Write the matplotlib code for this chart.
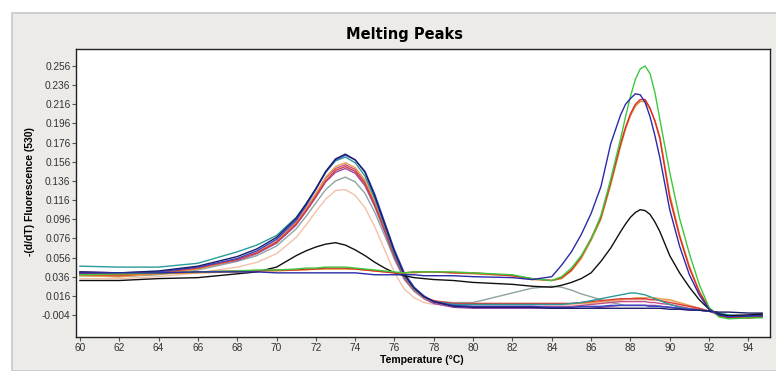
import matplotlib
matplotlib.use("Agg")
import matplotlib.pyplot as plt
from matplotlib.patches import Rectangle

# temperature grid (deg C) shared by all curves
temp = [60, 62, 64, 66, 68, 69, 70, 71, 71.5, 72, 72.5, 73, 73.5, 74, 74.5, 75, 75.5,
        76, 76.5, 77, 77.5, 78, 79, 80, 82, 83, 84, 84.5, 85, 85.5, 86, 86.5, 87, 87.5,
        87.75, 88, 88.25, 88.5, 88.75, 89, 89.25, 89.5, 90, 90.5, 91, 91.5, 92, 92.5, 93,
        94, 94.7]

# -(d/dT) fluorescence
navy = [0.041, 0.040, 0.042, 0.047, 0.057, 0.065, 0.077, 0.097, 0.112, 0.128, 0.146, 0.159, 0.164,
        0.158, 0.145, 0.120, 0.091, 0.062, 0.038, 0.024, 0.015, 0.010, 0.005, 0.004, 0.004, 0.004,
        0.003, 0.003, 0.003, 0.003, 0.003, 0.003, 0.003, 0.003,
        0.003, 0.003, 0.003, 0.003, 0.003, 0.003, 0.003, 0.003,
        0.002, 0.002, 0.001, 0.001, 0.000, -0.001, -0.001, -0.002, -0.002]
blue = [0.040, 0.039, 0.041, 0.046, 0.055, 0.063, 0.075, 0.095, 0.110, 0.127, 0.145, 0.158, 0.163,
        0.158, 0.146, 0.122, 0.093, 0.064, 0.040, 0.025, 0.016, 0.010, 0.006, 0.005, 0.005, 0.005,
        0.004, 0.004, 0.004, 0.005, 0.005, 0.005, 0.006, 0.006,
        0.006, 0.006, 0.006, 0.006, 0.006, 0.005, 0.005, 0.005,
        0.004, 0.003, 0.002, 0.001, 0.000, -0.003, -0.005, -0.005, -0.004]
teal = [0.047, 0.046, 0.046, 0.050, 0.062, 0.069, 0.079, 0.098, 0.112, 0.128, 0.145, 0.157, 0.161,
        0.155, 0.141, 0.117, 0.089, 0.060, 0.037, 0.023, 0.015, 0.010, 0.007, 0.007, 0.007, 0.007,
        0.007, 0.007, 0.008, 0.009, 0.011, 0.013, 0.015, 0.017,
        0.018, 0.019, 0.019, 0.018, 0.017, 0.015, 0.013, 0.011,
        0.007, 0.004, 0.002, 0.001, 0.000, -0.002, -0.004, -0.005, -0.005]
red_a = [0.038, 0.037, 0.040, 0.045, 0.054, 0.061, 0.072, 0.091, 0.105, 0.120, 0.136, 0.147, 0.151,
         0.146, 0.133, 0.111, 0.085, 0.058, 0.036, 0.023, 0.015, 0.011, 0.008, 0.008, 0.008, 0.008,
         0.008, 0.008, 0.008, 0.009, 0.010, 0.011, 0.012, 0.013,
         0.013, 0.013, 0.013, 0.013, 0.013, 0.012, 0.012, 0.011,
         0.009, 0.007, 0.005, 0.003, 0.000, -0.003, -0.005, -0.006, -0.006]
orange_a = [0.037, 0.036, 0.039, 0.044, 0.054, 0.061, 0.073, 0.092, 0.107, 0.123, 0.140, 0.151, 0.155,
            0.150, 0.137, 0.114, 0.087, 0.059, 0.036, 0.022, 0.014, 0.010, 0.008, 0.008, 0.008, 0.008,
            0.008, 0.008, 0.008, 0.008, 0.009, 0.010, 0.011, 0.012,
            0.013, 0.013, 0.014, 0.014, 0.014, 0.014, 0.014, 0.013,
            0.012, 0.009, 0.006, 0.003, 0.000, -0.004, -0.006, -0.007, -0.006]
purple = [0.041, 0.040, 0.041, 0.045, 0.053, 0.060, 0.071, 0.090, 0.104, 0.119, 0.135, 0.145, 0.149,
          0.144, 0.131, 0.109, 0.083, 0.056, 0.034, 0.021, 0.013, 0.008, 0.004, 0.003, 0.003, 0.003,
          0.003, 0.003, 0.003, 0.003, 0.003, 0.004, 0.005, 0.006,
          0.006, 0.006, 0.006, 0.006, 0.006, 0.006, 0.006, 0.005,
          0.004, 0.003, 0.002, 0.001, 0.000, -0.003, -0.005, -0.005, -0.005]
magenta = [0.039, 0.038, 0.040, 0.045, 0.054, 0.061, 0.073, 0.093, 0.107, 0.122, 0.139, 0.149, 0.153,
           0.148, 0.135, 0.113, 0.086, 0.058, 0.035, 0.022, 0.014, 0.009, 0.006, 0.005, 0.005, 0.005,
           0.005, 0.005, 0.005, 0.006, 0.007, 0.008, 0.009, 0.010,
           0.010, 0.010, 0.010, 0.010, 0.010, 0.009, 0.009, 0.008,
           0.007, 0.005, 0.003, 0.002, 0.000, -0.003, -0.005, -0.006, -0.005]
gray = [0.037, 0.036, 0.038, 0.043, 0.052, 0.058, 0.068, 0.086, 0.099, 0.113, 0.127, 0.136, 0.140,
        0.135, 0.123, 0.103, 0.079, 0.054, 0.033, 0.021, 0.014, 0.010, 0.009, 0.009, 0.019, 0.024,
        0.026, 0.025, 0.022, 0.018, 0.015, 0.012, 0.009, 0.007,
        0.006, 0.006, 0.006, 0.006, 0.006, 0.005, 0.005, 0.005,
        0.004, 0.003, 0.002, 0.001, 0.000, -0.002, -0.004, -0.004, -0.004]
peach = [0.034, 0.034, 0.036, 0.040, 0.046, 0.051, 0.060, 0.077, 0.090, 0.104, 0.117, 0.126, 0.127,
         0.121, 0.108, 0.088, 0.064, 0.040, 0.023, 0.014, 0.009, 0.007, 0.007, 0.007, 0.007, 0.007,
         0.007, 0.007, 0.007, 0.008, 0.008, 0.009, 0.010, 0.011,
         0.012, 0.012, 0.012, 0.012, 0.012, 0.012, 0.012, 0.012,
         0.011, 0.008, 0.005, 0.002, 0.000, -0.003, -0.004, -0.004, -0.004]
green = [0.038, 0.039, 0.040, 0.041, 0.042, 0.043, 0.043, 0.044, 0.045, 0.045, 0.046, 0.046, 0.046,
         0.045, 0.044, 0.043, 0.042, 0.041, 0.040, 0.041, 0.041, 0.041, 0.041, 0.040, 0.038, 0.034,
         0.032, 0.036, 0.045, 0.058, 0.075, 0.100, 0.138, 0.180,
         0.203, 0.224, 0.242, 0.253, 0.256, 0.248, 0.228, 0.200,
         0.145, 0.097, 0.060, 0.028, 0.004, -0.006, -0.008, -0.007, -0.007]
red_b = [0.039, 0.039, 0.040, 0.041, 0.042, 0.042, 0.043, 0.043, 0.044, 0.044, 0.045, 0.045, 0.045,
         0.044, 0.043, 0.042, 0.041, 0.040, 0.040, 0.041, 0.041, 0.041, 0.040, 0.040, 0.037, 0.034,
         0.032, 0.035, 0.043, 0.057, 0.076, 0.098, 0.135, 0.175,
         0.192, 0.206, 0.216, 0.221, 0.221, 0.212, 0.198, 0.180,
         0.118, 0.078, 0.045, 0.020, 0.003, -0.005, -0.007, -0.007, -0.006]
orange_b = [0.038, 0.038, 0.039, 0.040, 0.041, 0.042, 0.042, 0.043, 0.043, 0.044, 0.044, 0.044, 0.044,
            0.044, 0.043, 0.042, 0.041, 0.040, 0.040, 0.040, 0.041, 0.041, 0.040, 0.039, 0.037, 0.033,
            0.032, 0.034, 0.042, 0.055, 0.074, 0.096, 0.132, 0.172,
            0.190, 0.204, 0.214, 0.219, 0.219, 0.211, 0.199, 0.182,
            0.122, 0.080, 0.047, 0.021, 0.003, -0.005, -0.007, -0.007, -0.006]
blue_b = [0.040, 0.040, 0.040, 0.041, 0.041, 0.041, 0.040, 0.040, 0.040, 0.040, 0.040, 0.040, 0.040,
          0.040, 0.039, 0.038, 0.038, 0.038, 0.038, 0.038, 0.037, 0.037, 0.037, 0.036, 0.035, 0.033,
          0.036, 0.048, 0.062, 0.080, 0.102, 0.130, 0.175, 0.205,
          0.216, 0.222, 0.227, 0.226, 0.218, 0.203, 0.183, 0.160,
          0.106, 0.068, 0.038, 0.017, 0.002, -0.004, -0.006, -0.005, -0.005]
black = [0.032, 0.032, 0.034, 0.035, 0.039, 0.041, 0.046, 0.058, 0.063, 0.067, 0.070, 0.0715, 0.069,
         0.064, 0.058, 0.051, 0.045, 0.040, 0.037, 0.035, 0.034, 0.033, 0.032, 0.030, 0.028, 0.026,
         0.025, 0.027, 0.030, 0.034, 0.040, 0.052, 0.066, 0.083,
         0.091, 0.098, 0.103, 0.106, 0.105, 0.101, 0.093, 0.083,
         0.058, 0.040, 0.025, 0.012, 0.002, -0.003, -0.005, -0.004, -0.003]

curves = [
    (peach, "#f2c2a8"), (gray, "#8fa3a3"), (magenta, "#c2508a"), (purple, "#9a4aa6"),
    (orange_a, "#e8a24a"), (red_a, "#d83c3c"), (teal, "#2a9a9a"), (blue, "#3a46c8"),
    (navy, "#1c1c6a"), (black, "#101010"), (orange_b, "#d88a30"), (red_b, "#e02a2a"),
    (green, "#3cc83c"), (blue_b, "#2a2aa8"),
]

yticks = [-0.004, 0.016, 0.036, 0.056, 0.076, 0.096, 0.116, 0.136, 0.156, 0.176, 0.196,
          0.216, 0.236, 0.256]
xticks = list(range(60, 95, 2))

plt.rcParams["font.family"] = ["Liberation Sans", "DejaVu Sans"]

fig = plt.figure(figsize=(7.76, 3.71), dpi=100)
fig.patch.set_facecolor("white")
fig.patches.append(Rectangle((12 / 776, 0), 1, 1 - 13 / 371, transform=fig.transFigure,
                             facecolor="#ecebe8", edgecolor="#c8c8c8", linewidth=1.2, zorder=-5))

ax = fig.add_axes([76 / 776, 1 - 337 / 371, (770 - 76) / 776, (337 - 49) / 371])
ax.set_facecolor("white")
for y, c in curves:
    ax.plot(temp, y, color=c, linewidth=1.0)

ax.set_xlim(59.8, 95.1)
ax.set_ylim(-0.027, 0.2738)
ax.set_xticks(xticks)
ax.set_yticks(yticks)
ax.set_yticklabels([f"{v:.3f}" for v in yticks])
ax.tick_params(labelsize=7.3, length=3, width=0.8, color="#555555", labelcolor="#333333", pad=1)
for s in ax.spines.values():
    s.set_linewidth(1.0)
    s.set_color("#222222")

fig.text(405 / 776, 1 - 34 / 371, "Melting Peaks", ha="center", va="center",
         fontsize=10.5, fontweight="bold", family="DejaVu Sans")
fig.text(422 / 776, 1 - 360 / 371, "Temperature (\u00b0C)", ha="center", va="center",
         fontsize=7.5, fontweight="bold")
fig.text(30 / 776, 1 - 192 / 371, "-(d/dT) Fluorescence (530)", ha="center", va="center",
         rotation=90, fontsize=7.5, fontweight="bold")

fig.savefig("out.png", dpi=100)
